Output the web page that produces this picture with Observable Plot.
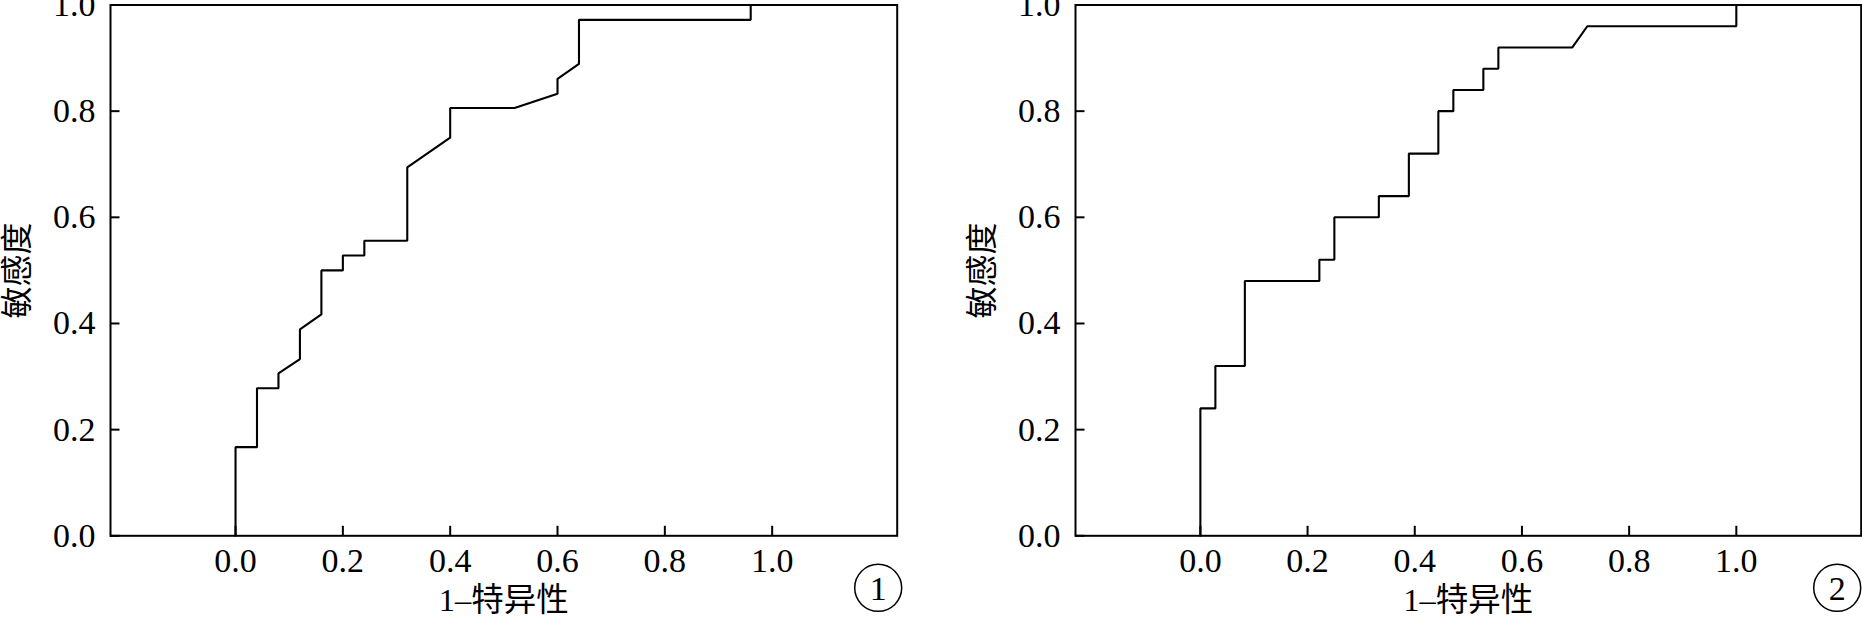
<!DOCTYPE html>
<html>
<head>
<meta charset="utf-8">
<script src="https://cdn.jsdelivr.net/npm/d3@7"></script>
<script src="https://cdn.jsdelivr.net/npm/@observablehq/plot@0.6"></script>
<style>
  html, body { margin: 0; padding: 0; background: #fff; }
  #wrap { position: relative; width: 1862px; height: 618px; overflow: hidden; background: #fff; }
  #wrap > div { position: absolute; top: 0; }
  svg { display: block; }
  #wrap svg text {
    font-family: "Liberation Serif", "Times New Roman", Times, "DejaVu Serif", "Noto Sans CJK SC", serif !important;
  }
</style>
</head>
<body>
<div id="wrap"><div id="p1" style="left:0px"></div><div id="p2" style="left:965px"></div></div>
<script>
// Panel ① ROC curve: 1-specificity (x) and sensitivity (y)
const fpr1 = [0, 0, 0.04, 0.04, 0.08, 0.08, 0.12, 0.12, 0.16, 0.16, 0.20, 0.20, 0.24, 0.24, 0.32, 0.32, 0.40, 0.40, 0.52, 0.60, 0.60, 0.64, 0.64, 0.96, 0.96, 1.00];
const tpr1 = [0, 0.167, 0.167, 0.278, 0.278, 0.306, 0.333, 0.389, 0.417, 0.500, 0.500, 0.528, 0.528, 0.556, 0.556, 0.694, 0.750, 0.806, 0.806, 0.833, 0.861, 0.889, 0.972, 0.972, 1.000, 1.000];
// Panel ② ROC curve
const fpr2 = [0, 0, 0.028, 0.028, 0.083, 0.083, 0.222, 0.222, 0.250, 0.250, 0.333, 0.333, 0.389, 0.389, 0.444, 0.444, 0.472, 0.472, 0.528, 0.528, 0.556, 0.556, 0.694, 0.722, 1.000, 1.000];
const tpr2 = [0, 0.24, 0.24, 0.32, 0.32, 0.48, 0.48, 0.52, 0.52, 0.60, 0.60, 0.64, 0.64, 0.72, 0.72, 0.80, 0.80, 0.84, 0.84, 0.88, 0.88, 0.92, 0.92, 0.96, 0.96, 1.00];

const xTicks = [0, 0.2, 0.4, 0.6, 0.8, 1.0];
const yTicks = [0, 0.2, 0.4, 0.6, 0.8, 1.0];
const xLabel = "1–特异性";
const yLabel = "敏感度";
const panelLabels = ["1", "2"];

const FONT = '"Liberation Serif", "Times New Roman", Times, "DejaVu Serif", "Noto Sans CJK SC", serif';
const fmt = d3.format(".1f");

function panel(fpr, tpr, num, circleDx, width, marginRight) {
  const data = fpr.map((x, i) => ({x, y: tpr[i]}));
  return Plot.plot({
    width: width,
    height: 618,
    marginLeft: 110,
    marginRight: marginRight,
    marginTop: 4.5,
    marginBottom: 82.7,
    style: {fontFamily: FONT, fontSize: "34px", color: "#000", background: "#fff"},
    x: {domain: [-0.233, 1.233]},
    y: {domain: [0, 1]},
    marks: [
      Plot.axisX({ticks: xTicks, tickSize: -9.5, tickFormat: () => "", label: null, strokeWidth: 2}),
      Plot.axisX({ticks: xTicks, tickSize: 0, tickPadding: 12.5, tickFormat: fmt, label: null, fontSize: 34, fontFamily: FONT}),
      Plot.axisY({ticks: yTicks, tickSize: -9.5, tickFormat: () => "", label: null, strokeWidth: 2}),
      Plot.axisY({ticks: yTicks, tickSize: 0, tickPadding: 15, tickFormat: fmt, label: null, fontSize: 34, fontFamily: FONT}),
      Plot.frame({stroke: "#000", strokeWidth: 2}),
      Plot.line(data, {x: "x", y: "y", stroke: "#000", strokeWidth: 2.1, strokeLinejoin: "miter"}),
      Plot.text([xLabel], {frameAnchor: "bottom", dy: 65, lineAnchor: "middle", text: d => d, fontSize: 32.5, fill: "#000", fontFamily: FONT}),
      Plot.text([yLabel], {frameAnchor: "left", dx: -93, rotate: -90, textAnchor: "middle", lineAnchor: "middle", text: d => d, fontSize: 32, fill: "#000", fontFamily: FONT}),
      Plot.dot([num], {frameAnchor: "bottom-right", dx: circleDx, dy: 52, r: 23.5, stroke: "#000", strokeWidth: 1.5, fill: "none"}),
      Plot.text([num], {frameAnchor: "bottom-right", dx: circleDx, dy: 53, textAnchor: "middle", lineAnchor: "middle", text: d => d, fontSize: 34, fill: "#000", fontFamily: FONT})
    ]
  });
}

document.getElementById("p1").appendChild(panel(fpr1, tpr1, panelLabels[0], -19, 930, 33.3));
document.getElementById("p2").appendChild(panel(fpr2, tpr2, panelLabels[1], -24, 897, 1.3));
</script>
</body>
</html>
